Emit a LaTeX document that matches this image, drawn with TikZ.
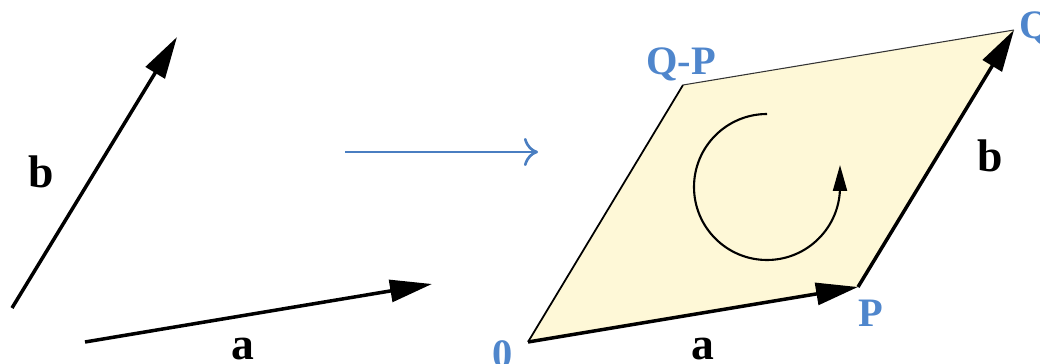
\documentclass[tikz,border=0pt]{standalone}
\usepackage{fontspec}
\setmainfont{Liberation Serif}
\usetikzlibrary{arrows.meta}
\definecolor{lblblue}{RGB}{79,134,204}
\definecolor{arrblue}{RGB}{74,126,193}
\definecolor{paper}{RGB}{254,248,215}
\tikzset{
  vec/.style={line width=2pt,-{Triangle[length=42*0.02cm,width=22*0.02cm]}},
  vlabel/.style={font=\fontsize{26}{26}\selectfont\bfseries,inner sep=0pt},
  plabel/.style={font=\fontsize{23}{23}\selectfont\bfseries,text=lblblue,inner sep=0pt},
}
\begin{document}
\begin{tikzpicture}[x=0.02cm,y=-0.02cm]
\useasboundingbox (0,0) rectangle (1040,364);
% left vectors
\coordinate (bt) at (12,308);
\coordinate (bh) at (177,37);
\coordinate (at) at (85,342);
\coordinate (ah) at (432,284);
\draw[vec] (bt) -- (bh);
\draw[vec] (at) -- (ah);
\node[vlabel] (lb) at (41,172) {b};
\node[vlabel] (la) at (243,349) {a};
% middle arrow
\coordinate (m1) at (345,152);
\coordinate (m2) at (538,152);
\draw[arrblue,line width=1.5pt,-{To[length=8pt,width=16pt]}] (m1) -- (m2);
% parallelogram
\coordinate (O) at (528,342);
\coordinate (P) at (858,287);
\coordinate (Q) at (1014,30);
\coordinate (QP) at (683,85);
\fill[paper] (O) -- (P) -- (Q) -- (QP) -- cycle;
\draw[line width=1pt] (O) -- (QP);
\draw[line width=0.6pt,black!80] (QP) -- (Q);
\draw[vec] (O) -- (P);
\draw[vec] (P) -- (Q);
% rotation arc
\coordinate (C) at (767,187);
\draw[line width=1.2pt,-{Triangle[length=26*0.02cm,width=14*0.02cm]}]
  (767,114) arc[start angle=-90,end angle=-360,radius=73] -- (840,165);
% labels
\node[plabel,anchor=north west] (l0) at (492,340) {0};
\node[plabel,anchor=north west] (lP) at (858,300) {P};
\node[plabel,anchor=north west] (lQP) at (646,47) {Q-P};
\node[plabel,anchor=north west] (lQ) at (1019,11) {Q};
\node[vlabel] (rb) at (990,156) {b};
\node[vlabel] (ra) at (703,349) {a};
\end{tikzpicture}
\end{document}
